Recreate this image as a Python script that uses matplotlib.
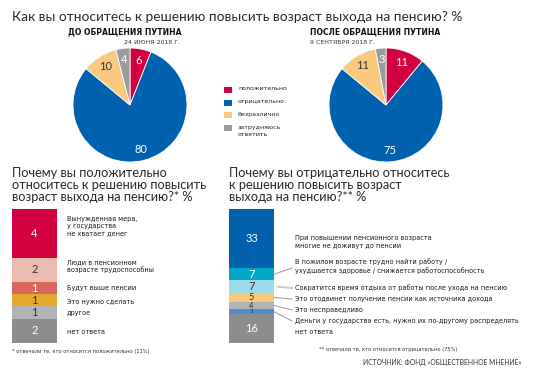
import matplotlib
matplotlib.use('Agg')
import matplotlib.pyplot as plt
import numpy as np

# ---------------- data ----------------
title = 'Как вы относитесь к решению повысить возраст выхода на пенсию? %'
pie_cats = ['положительно', 'отрицательно', 'безразлично', 'затрудняюсь\nответить']
before_vals = [6, 80, 10, 4]
after_vals = [11, 75, 11, 3]
before_title = 'ДО ОБРАЩЕНИЯ ПУТИНА'
before_date = '24 ИЮНЯ 2018 Г.'
after_title = 'ПОСЛЕ ОБРАЩЕНИЯ ПУТИНА'
after_date = '9 СЕНТЯБРЯ 2018 Г.'

pos_title = 'Почему вы положительно\nотноситесь к решению повысить\nвозраст выхода на пенсию?* %'
pos_cats = ['Вынужденная мера,\nу государства\nне хватает денег',
            'Люди в пенсионном\nвозрасте трудоспособны',
            'Будут выше пенсии',
            'Это нужно сделать',
            'другое',
            'нет ответа']
pos_vals = [4, 2, 1, 1, 1, 2]

neg_title = 'Почему вы отрицательно относитесь\nк решению повысить возраст\nвыхода на пенсию?** %'
neg_cats = ['При повышении пенсионного возраста\nмногие не доживут до пенсии',
            'В пожилом возрасте трудно найти работу /\nухудшается здоровье / снижается работоспособность',
            'Сократится время отдыха от работы после ухода на пенсию',
            'Это отодвинет получение пенсии как источника дохода',
            'Это несправедливо',
            'Деньги у государства есть, нужно их по-другому распределять',
            'нет ответа']
neg_vals = [33, 7, 7, 5, 4, 3, 16]

pos_note = '* отвечали те, кто относится положительно (11%)'
neg_note = '** отвечали те, кто относится отрицательно (75%)'
source = 'ИСТОЧНИК: ФОНД «ОБЩЕСТВЕННОЕ МНЕНИЕ»'

# ---------------- style ----------------
pie_colors = ['#D2003E', '#0061AF', '#F9C97F', '#9B9B9E']
pie_txt = ['white', 'white', '#333333', 'white']
pos_colors = ['#D2003E', '#EBBDB0', '#D9665C', '#E5AA2C', '#B3B3B5', '#8B8D8F']
pos_txt = ['white', '#333333', 'white', '#333333', '#333333', 'white']
neg_colors = ['#0061AF', '#00A7C6', '#9BDCEB', '#F9C97F', '#B3B3B5', '#4B8FD0', '#8B8D8F']
neg_txt = ['white', 'white', '#333333', '#333333', '#333333', '#333333', 'white']

W, H = 540, 380
fig = plt.figure(figsize=(5.4, 3.8), dpi=100)
fig.patch.set_facecolor('white')

TFONT = ['Lato', 'DejaVu Sans']
SFONT = ['DejaVu Sans']


def fx(x):
    return x / W


def fy(y):
    return 1 - y / H


def ftext(x, y, s, **kw):
    return fig.text(fx(x), fy(y), s, **kw)


# main title
ftext(12, 17, title, fontsize=9.8, family=TFONT, fontweight='normal', color='#2a2a2a',
      va='center', ha='left')


def draw_pie(cx, cy, r, vals):
    ax = fig.add_axes([fx(cx - r), fy(cy + r), 2 * r / W, 2 * r / H])
    wedges, _ = ax.pie(vals, colors=pie_colors, startangle=90, counterclock=False,
                       radius=1, wedgeprops=dict(edgecolor='white', linewidth=0.6))
    for w, v, tc in zip(wedges, vals, pie_txt):
        ang = np.deg2rad((w.theta1 + w.theta2) / 2)
        d = 0.8
        ax.text(d * np.cos(ang), d * np.sin(ang), str(v), ha='center', va='center',
                fontsize=8, color=tc, family=TFONT)
    ax.set_xlim(-1, 1)
    ax.set_ylim(-1, 1)
    ax.set_aspect('equal')
    ax.axis('off')
    return ax


draw_pie(130, 105, 57, before_vals)
draw_pie(386, 105, 57, after_vals)

ftext(125, 32, before_title, fontsize=5.5, fontweight='bold', family=SFONT, color='#111111',
      ha='center', va='center')
ftext(180, 43, before_date, fontsize=4.5, family=SFONT, color='#333333', ha='right', va='center')
ftext(310, 32, after_title, fontsize=5.5, fontweight='bold', family=SFONT, color='#111111',
      ha='left', va='center')
ftext(310, 43, after_date, fontsize=4.5, family=SFONT, color='#333333', ha='left', va='center')

# legend
leg_y = [90, 103, 115, 128]
for c, lab, y in zip(pie_colors, pie_cats, leg_y):
    fig.patches.append(plt.Rectangle((fx(224), fy(y + 3)), 8 / W, 6 / H, transform=fig.transFigure,
                                     facecolor=c, edgecolor='none'))
    ftext(238, y - 3.5, lab, fontsize=4.5, family=SFONT, color='#222222', ha='left', va='top',
          linespacing=1.6)

# bottom titles
ftext(12, 185, pos_title, fontsize=9.2, family=TFONT, fontweight='normal', color='#2a2a2a',
      ha='left', va='center', linespacing=1.0)
ftext(229, 185, neg_title, fontsize=9.2, family=TFONT, fontweight='normal', color='#2a2a2a',
      ha='left', va='center', linespacing=1.0)


def draw_bar(x0, x1, y0, y1, vals, colors, tcols):
    ax = fig.add_axes([fx(x0), fy(y1), (x1 - x0) / W, (y1 - y0) / H])
    total = sum(vals)
    bottoms = np.concatenate([[0], np.cumsum(vals)[:-1]])
    ax.bar(0.5, vals, bottom=bottoms, width=1, color=colors, edgecolor='none')
    px_per_unit = (y1 - y0) / total
    for b, v, tc in zip(bottoms, vals, tcols):
        fs = min(8.0, v * px_per_unit * 0.75)
        ax.text(0.5, b + v / 2, str(v), ha='center', va='center', fontsize=fs,
                color=tc, family=TFONT)
    ax.set_xlim(0, 1)
    ax.set_ylim(total, 0)
    ax.axis('off')
    return ax, bottoms, total


# left bar
BX0, BX1, BY0, BY1 = 12, 57, 209, 343
axL, botL, totL = draw_bar(BX0, BX1, BY0, BY1, pos_vals, pos_colors, pos_txt)
pos_label_y = [226, 266, 288, 302, 313, 332]
for lab, y in zip(pos_cats, pos_label_y):
    ftext(67, y, lab, fontsize=4.7, family=SFONT, color='#1a1a1a', ha='left', va='center',
          linespacing=1.15)

# right bar
RX0, RX1 = 229, 274
axR, botR, totR = draw_bar(RX0, RX1, BY0, BY1, neg_vals, neg_colors, neg_txt)
neg_label_y = [242, 266, 288, 299, 310, 321, 332]
leader = [False, True, True, True, True, True, False]
for i, (lab, y) in enumerate(zip(neg_cats, neg_label_y)):
    ftext(295, y, lab, fontsize=4.7, family=SFONT, color='#1a1a1a', ha='left', va='center',
          linespacing=1.25)
    if leader[i]:
        seg_mid = botR[i] + neg_vals[i] / 2
        py_start = BY0 + seg_mid / totR * (BY1 - BY0)
        xs = 278 if i == 2 else RX1
        ye = y + 2 if i == 1 else y
        lw = 1.4 if i == 2 else 0.7
        col = '#C8C8C8' if i == 2 else '#9A9A9A'
        fig.add_artist(plt.Line2D([fx(xs), fx(292)], [fy(py_start), fy(ye)],
                                  transform=fig.transFigure, color=col, lw=lw))

# notes
ftext(12, 351, pos_note, fontsize=3.7, family=SFONT, color='#333333', ha='left', va='center')
ftext(319, 350, neg_note, fontsize=3.7, family=SFONT, color='#333333', ha='left', va='center')
ftext(363, 362, source, fontsize=4.85, family=TFONT, color='#333333', ha='left', va='center')

fig.savefig('out.png', dpi=100)
